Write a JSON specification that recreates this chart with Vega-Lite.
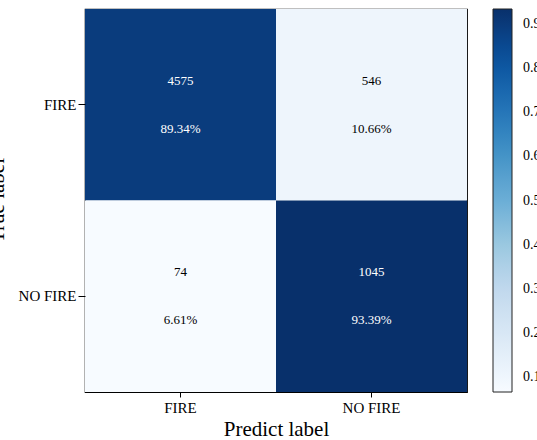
{
  "$schema": "https://vega.github.io/schema/vega-lite/v6.json",
  "width": 382,
  "height": 383,
  "autosize": "none",
  "padding": {"left": 85, "top": 9, "right": 70, "bottom": 48},
  "background": "white",
  "config": {
    "view": {"stroke": "black", "strokeWidth": 1.2},
    "font": "Liberation Serif",
    "text": {"font": "Liberation Serif"},
    "legend": {"labelFont": "Liberation Serif"},
    "axis": {"domain": false, "tickColor": "black", "labelColor": "black", "titleColor": "black", "labelFont": "Liberation Serif", "titleFont": "Liberation Serif", "titleFontWeight": "normal", "grid": false}
  },
  "data": {
    "values": [
      {"actual": "FIRE", "predicted": "FIRE", "count": 4575, "rate": 0.8934},
      {"actual": "FIRE", "predicted": "NO FIRE", "count": 546, "rate": 0.1066},
      {"actual": "NO FIRE", "predicted": "FIRE", "count": 74, "rate": 0.0661},
      {"actual": "NO FIRE", "predicted": "NO FIRE", "count": 1045, "rate": 0.9339}
    ]
  },
  "encoding": {
    "x": {
      "field": "predicted", "type": "nominal", "sort": ["FIRE", "NO FIRE"],
      "axis": {"title": "Predict label", "labelAngle": 0, "labelFontSize": 15, "titleFontSize": 21, "tickSize": 5, "labelPadding": 3, "titlePadding": 3}
    },
    "y": {
      "field": "actual", "type": "nominal", "sort": ["FIRE", "NO FIRE"],
      "axis": {"title": "True label", "labelFontSize": 15, "titleFontSize": 21, "tickSize": 7, "labelPadding": 2, "titleX": -82, "titleY": 191, "titleBaseline": "alphabetic", "titleAngle": -90}
    }
  },
  "layer": [
    {
      "mark": {"type": "rect"},
      "encoding": {
        "color": {
          "field": "rate", "type": "quantitative",
          "scale": {
            "domain": [0.0661, 0.174575, 0.28305, 0.391525, 0.5, 0.608475, 0.71695, 0.825425, 0.9339],
            "range": ["#f7fbff", "#deebf7", "#c6dbef", "#9ecae1", "#6baed6", "#4292c6", "#2171b5", "#08519c", "#08306b"]
          },
          "legend": {
            "title": null, "orient": "right", "offset": 26, "direction": "vertical",
            "gradientLength": 383, "gradientThickness": 19,
            "gradientStrokeColor": "#222222", "gradientStrokeWidth": 1,
            "values": [0.1, 0.2, 0.3, 0.4, 0.5, 0.6, 0.7, 0.8, 0.9],
            "format": ".1f", "labelFontSize": 14, "labelOffset": 11, "labelColor": "black",
            "labelFont": "Liberation Serif", "labelOverlap": false, "labelFlush": false, "padding": 0
          }
        }
      }
    },
    {
      "mark": {"type": "text", "font": "Liberation Serif", "fontSize": 13, "dy": -24},
      "encoding": {
        "text": {"field": "count", "type": "quantitative", "format": "d"},
        "color": {"condition": {"test": "datum.rate > 0.5", "value": "white"}, "value": "black"}
      }
    },
    {
      "mark": {"type": "text", "font": "Liberation Serif", "fontSize": 13, "dy": 24},
      "encoding": {
        "text": {"field": "rate", "type": "quantitative", "format": ".2%"},
        "color": {"condition": {"test": "datum.rate > 0.5", "value": "white"}, "value": "black"}
      }
    }
  ]
}
